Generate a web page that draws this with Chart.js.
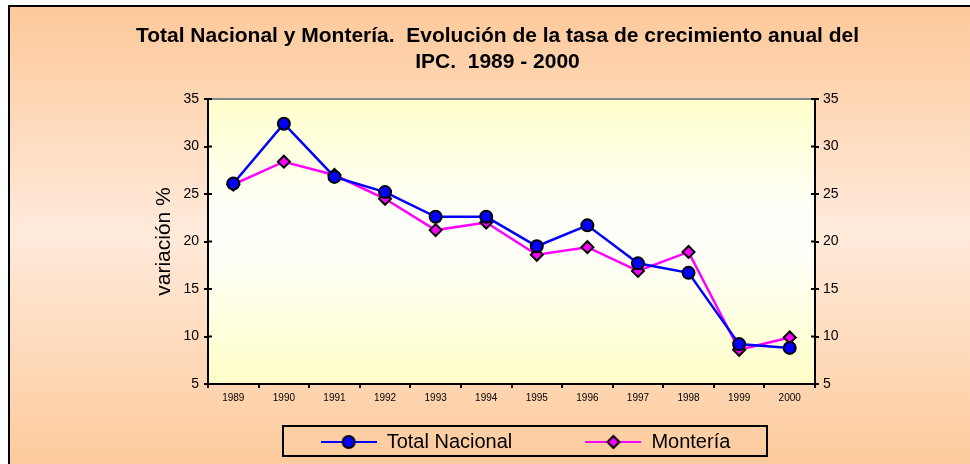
<!DOCTYPE html>
<html>
<head>
<meta charset="utf-8">
<script src="https://cdn.jsdelivr.net/npm/chart.js@4"></script>
<style>
  html, body { margin: 0; padding: 0; background: #fff; }
  #wrap { width: 970px; height: 464px; }
</style>
</head>
<body>
<div id="wrap"><canvas id="grafIPC" width="970" height="464"></canvas></div>
<script>
// DATOS
const anios = ["1989", "1990", "1991", "1992", "1993", "1994", "1995", "1996", "1997", "1998", "1999", "2000"];
const totalNacional = [26.1, 32.4, 26.8, 25.2, 22.6, 22.6, 19.5, 21.7, 17.7, 16.7, 9.2, 8.8];
const monteria = [26.0, 28.4, 27.0, 24.5, 21.2, 22.0, 18.6, 19.4, 16.9, 18.9, 8.6, 9.9];
const tituloLineas = ["Total Nacional y Montería.  Evolución de la tasa de crecimiento anual del", "IPC.  1989 - 2000"];
const nombresSeries = ["Total Nacional", "Montería"];

const FUENTE = "'Liberation Sans', Arial, sans-serif";

// icono de leyenda: línea + marcador
function iconoLeyenda(color, tipo) {
    const c = document.createElement("canvas");
    c.width = 56; c.height = 16;
    const g = c.getContext("2d");
    g.strokeStyle = color;
    g.lineWidth = 2;
    g.beginPath(); g.moveTo(0, 8); g.lineTo(56, 8); g.stroke();
    g.fillStyle = color;
    g.strokeStyle = "#000";
    g.lineWidth = 2;
    g.beginPath();
    if (tipo === "circle") {
        g.arc(28, 8, 6, 0, Math.PI * 2);
    } else {
        g.moveTo(28, 2); g.lineTo(34, 8); g.lineTo(28, 14); g.lineTo(22, 8); g.closePath();
    }
    g.fill(); g.stroke();
    return c;
}

// FONDO, MARCO, MARCAS Y CAJA DE LEYENDA
const fondoPlugin = {
    id: "fondo",
    afterLayout(chart) {
        // mover la leyenda un poco a la derecha
        chart.legend.left += 28;
        chart.legend.right += 28;
    },
    beforeDraw(chart) {
        const ctx = chart.ctx;
        const w = chart.width, h = chart.height;
        const gr = ctx.createLinearGradient(0, 0, 0, h);
        gr.addColorStop(0, "#FDC898");
        gr.addColorStop(0.5, "#FFEADB");
        gr.addColorStop(1, "#FDCB9C");
        ctx.save();
        ctx.fillStyle = "#fff";
        ctx.fillRect(0, 0, w, h);
        ctx.fillStyle = gr;
        ctx.fillRect(9, 6, w - 9, h - 6);
        const a = chart.chartArea;
        const gp = ctx.createLinearGradient(0, a.top, 0, a.bottom);
        gp.addColorStop(0, "#FFFFCC");
        gp.addColorStop(0.4, "#FFFFFA");
        gp.addColorStop(0.55, "#FFFFF8");
        gp.addColorStop(1, "#FFFFC8");
        ctx.fillStyle = gp;
        ctx.fillRect(a.left, a.top, a.right - a.left, a.bottom - a.top);
        ctx.strokeStyle = "#888";
        ctx.lineWidth = 2;
        ctx.beginPath(); ctx.moveTo(a.left, a.top); ctx.lineTo(a.right, a.top); ctx.stroke();
        ctx.restore();
    },
    afterDraw(chart) {
        const ctx = chart.ctx;
        ctx.save();
        ctx.strokeStyle = "#000";
        ctx.lineWidth = 2;
        ctx.strokeRect(9, 6, chart.width, chart.height);
        const lg = chart.legend;
        ctx.strokeRect(283, lg.top + 6, 484, 30);
        // marcas hacia dentro en los ejes verticales
        ["y", "y2"].forEach(id => {
            const s = chart.scales[id];
            const x0 = id === "y" ? s.right : s.left;
            const dir = id === "y" ? 1 : -1;
            s.ticks.forEach(t => {
                const py = s.getPixelForValue(t.value);
                ctx.beginPath(); ctx.moveTo(x0, py); ctx.lineTo(x0 + dir * 4, py); ctx.stroke();
            });
        });
        ctx.restore();
    }
};

new Chart(document.getElementById("grafIPC"), {
    type: "line",
    data: {
        labels: anios,
        datasets: [{
            label: nombresSeries[0],
            data: totalNacional,
            borderColor: "#0000FF",
            backgroundColor: "#0000FF",
            borderWidth: 2.5,
            pointStyle: "circle",
            pointRadius: 6,
            pointBorderColor: "#000",
            pointBorderWidth: 2,
            pointBackgroundColor: "#0000FF",
            tension: 0
        }, {
            label: nombresSeries[1],
            data: monteria,
            borderColor: "#FF00FF",
            backgroundColor: "#FF00FF",
            borderWidth: 2.5,
            pointStyle: "rectRot",
            pointRadius: 6,
            pointBorderColor: "#000",
            pointBorderWidth: 2,
            pointBackgroundColor: "#FF00FF",
            tension: 0
        }]
    },
    options: {
        responsive: false,
        animation: false,
        layout: { padding: { left: 120, right: 95, top: 12, bottom: 2 } },
        plugins: {
            title: {
                display: true,
                text: tituloLineas,
                color: "#000",
                font: { family: FUENTE, size: 21, weight: "bold", lineHeight: 1.25 },
                padding: { top: 11, bottom: 23.5 }
            },
            legend: {
                position: "bottom",
                labels: {
                    usePointStyle: true,
                    pointStyleWidth: 56,
                    color: "#000",
                    font: { family: FUENTE, size: 20 },
                    padding: 12,
                    generateLabels(chart) {
                        return [
                            { text: nombresSeries[0] + " ".repeat(11), pointStyle: iconoLeyenda("#0000FF", "circle"), datasetIndex: 0, fontColor: "#000", lineWidth: 0 },
                            { text: nombresSeries[1], pointStyle: iconoLeyenda("#FF00FF", "diamond"), datasetIndex: 1, fontColor: "#000", lineWidth: 0 }
                        ];
                    }
                }
            },
            tooltip: { enabled: false }
        },
        scales: {
            x: {
                offset: true,
                afterFit(s) { s.height = 36; },
                grid: { offset: true, drawOnChartArea: false, color: "#000", tickColor: "#000", tickLength: 4, lineWidth: 2 },
                border: { color: "#000", width: 2 },
                ticks: { color: "#000", font: { family: FUENTE, size: 10 }, padding: 4, maxRotation: 0 }
            },
            y: {
                min: 5, max: 35,
                afterFit(s) { s.width = 88; },
                ticks: { stepSize: 5, color: "#000", font: { family: FUENTE, size: 14 }, padding: 5 },
                grid: { drawOnChartArea: false, tickColor: "#000", tickLength: 4, lineWidth: 2 },
                border: { color: "#000", width: 2 },
                title: { display: true, text: "variación %", color: "#000", font: { family: FUENTE, size: 21 }, padding: { top: 32, bottom: 4 } }
            },
            y2: {
                position: "right",
                min: 5, max: 35,
                afterFit(s) { s.width = 60; },
                ticks: { stepSize: 5, color: "#000", font: { family: FUENTE, size: 14 }, padding: 4 },
                grid: { drawOnChartArea: false, tickColor: "#000", tickLength: 4, lineWidth: 2 },
                border: { color: "#000", width: 2 }
            }
        }
    },
    plugins: [fondoPlugin]
});
</script>
</body>
</html>
